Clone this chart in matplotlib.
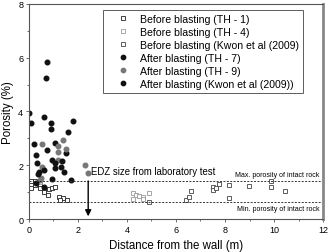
import matplotlib
matplotlib.use("Agg")
import matplotlib.pyplot as plt
from matplotlib.ticker import MultipleLocator

plt.rcParams['font.family'] = ['Liberation Sans', 'DejaVu Sans']

# before blasting (TH - 1)
th1_x = [0.08, 0.24, 0.08, 0.24, 0.45, 0.45, 0.63, 0.63, 0.83, 0.95, 1.07, 0.79, 1.24, 1.40, 1.28, 1.54]
th1_y = [1.42, 1.42, 1.16, 1.26, 1.26, 1.14, 1.11, 1.02, 1.11, 1.14, 1.20, 0.91, 0.84, 0.78, 0.70, 0.71]
# before blasting (TH - 4)
th4_x = [0.47, 4.23, 4.37, 4.50, 4.64, 4.88, 4.26, 4.65]
th4_y = [1.38, 0.96, 0.90, 0.86, 0.83, 0.96, 0.74, 0.74]
# before blasting (Kwon et al 2009)
kb_x = [6.41, 6.54, 6.63, 7.50, 7.50, 7.63, 7.77, 8.15, 8.15, 8.99, 9.89, 9.89, 10.45, 4.88]
kb_y = [0.72, 0.81, 1.04, 1.21, 1.07, 1.16, 1.31, 1.26, 0.78, 1.23, 1.41, 1.19, 1.04, 0.65]

# after blasting (TH - 7)
th7_x = [0.72, 0.68, 0.01, 0.63, 1.78, 0.07, 0.89, 0.89, 1.60, 0.19, 1.06, 0.72, 1.52]
th7_y = [5.84, 5.25, 3.93, 3.80, 3.63, 3.56, 3.57, 3.33, 3.23, 2.80, 2.81, 2.58, 2.47]
# after blasting (TH - 9)
th9_x = [0.52, 1.20, 1.40, 1.50, 1.17, 1.17, 0.54, 0.49, 0.46, 2.27, 2.41]
th9_y = [2.78, 2.72, 2.94, 2.60, 2.50, 2.20, 1.95, 1.54, 1.44, 2.01, 1.72]
# after blasting (Kwon et al 2009)
ka_x = [0.31, 0.93, 1.34, 0.34, 1.06, 1.05, 1.30, 0.63, 0.42, 0.38, 1.43, 0.93, 1.71, 0.29, 0.63]
ka_y = [2.38, 2.20, 2.17, 2.10, 2.10, 1.90, 1.93, 1.83, 1.75, 1.68, 1.75, 1.50, 1.44, 1.36, 1.21]

max_por = 1.41
min_por = 0.65
edz = 2.42

fig = plt.figure(figsize=(3.28, 2.53), dpi=100)
ax = fig.add_axes([0.088, 0.13, 0.897, 0.851])

ms = 2.9
mc = 3.3
ax.plot(th1_x, th1_y, 's', mfc='white', mec='#222222', mew=0.6, ms=ms, label='Before blasting (TH - 1)')
ax.plot(th4_x, th4_y, 's', mfc='white', mec='#999999', mew=0.6, ms=ms, label='Before blasting (TH - 4)')
ax.plot(kb_x, kb_y, 's', mfc='white', mec='#444444', mew=0.6, ms=ms, label='Before blasting (Kwon et al (2009)')
ax.plot(th7_x, th7_y, 'o', color='#111111', ms=mc, label='After blasting (TH - 7)')
ax.plot(th9_x, th9_y, 'o', color='#777777', ms=mc, label='After blasting (TH - 9)')
ax.plot(ka_x, ka_y, 'o', color='#111111', ms=mc, label='After blasting (Kwon et al (2009))')

ax.axhline(max_por, color='#333333', ls=(0, (2, 1.5)), lw=0.7)
ax.axhline(min_por, color='#333333', ls=(0, (2, 1.5)), lw=0.7)
ax.text(11.85, max_por + 0.12, 'Max. porosity of intact rock', fontsize=5.0, ha='right', va='bottom')
ax.text(11.85, min_por - 0.12, 'Min. porosity of intact rock', fontsize=5.0, ha='right', va='top')

ax.annotate('', xy=(edz, 0.0), xytext=(edz, 1.52),
            arrowprops=dict(arrowstyle='-|>', color='black', lw=1.0, mutation_scale=9))
ax.text(2.55, 1.78, 'EDZ size from laboratory test', fontsize=6.9, va='center')

ax.set_xlim(0, 12)
ax.set_ylim(0, 8)
ax.xaxis.set_major_locator(MultipleLocator(2))
ax.xaxis.set_minor_locator(MultipleLocator(1))
ax.yaxis.set_major_locator(MultipleLocator(2))
ax.yaxis.set_minor_locator(MultipleLocator(1))
ax.tick_params(which='both', direction='out', labelsize=6.5, width=0.6, color='#555555', pad=1.5)
ax.tick_params(which='major', length=2.5)
ax.tick_params(which='minor', length=1.5)
for s in ['left', 'bottom', 'top']:
    ax.spines[s].set_linewidth(0.8)
    ax.spines[s].set_color('#555555')
ax.spines['right'].set_linewidth(2.0)
ax.spines['right'].set_color('#888888')

ax.set_xlabel('Distance from the wall (m)', fontsize=8.3, labelpad=4)
ax.set_ylabel('Porosity (%)', fontsize=8.3, labelpad=3)

leg = ax.legend(loc='upper left', bbox_to_anchor=(0.252, 0.972), fontsize=7.6, frameon=True,
                fancybox=False, edgecolor='#333333', borderpad=0.4, labelspacing=0.28,
                handletextpad=0.2, handlelength=2.9, borderaxespad=0.0, markerscale=0.95)
leg.get_frame().set_linewidth(0.7)

fig.savefig('out.png', dpi=100)
